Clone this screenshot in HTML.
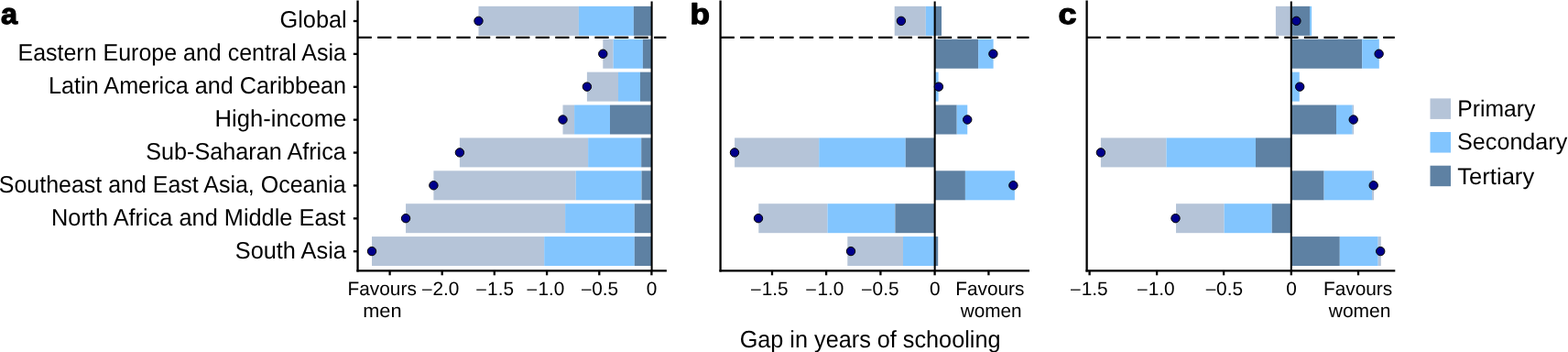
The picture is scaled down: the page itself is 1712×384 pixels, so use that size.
<!DOCTYPE html>
<html><head><meta charset="utf-8"><style>
html,body{margin:0;padding:0;background:#fff;}
svg{display:block;}
text{font-family:"Liberation Sans",Arial,Helvetica,sans-serif;fill:#000;text-rendering:geometricPrecision;}
</style></head><body>
<svg width="1712" height="384" viewBox="0 0 1712 384">
<rect width="1712" height="384" fill="#fff"/>
<rect x="522.50" y="6.85" width="109.40" height="32.00" fill="#b5c4d8"/>
<rect x="631.90" y="6.85" width="60.00" height="32.00" fill="#82c5fe"/>
<rect x="691.90" y="6.85" width="19.50" height="32.00" fill="#5e81a3"/>
<rect x="658.30" y="42.74" width="11.30" height="32.00" fill="#b5c4d8"/>
<rect x="669.60" y="42.74" width="32.30" height="32.00" fill="#82c5fe"/>
<rect x="701.90" y="42.74" width="9.50" height="32.00" fill="#5e81a3"/>
<rect x="640.90" y="78.63" width="34.10" height="32.00" fill="#b5c4d8"/>
<rect x="675.00" y="78.63" width="24.00" height="32.00" fill="#82c5fe"/>
<rect x="699.00" y="78.63" width="12.40" height="32.00" fill="#5e81a3"/>
<rect x="614.50" y="114.52" width="12.60" height="32.00" fill="#b5c4d8"/>
<rect x="627.10" y="114.52" width="38.90" height="32.00" fill="#82c5fe"/>
<rect x="666.00" y="114.52" width="45.40" height="32.00" fill="#5e81a3"/>
<rect x="501.90" y="150.41" width="140.20" height="32.00" fill="#b5c4d8"/>
<rect x="642.10" y="150.41" width="58.10" height="32.00" fill="#82c5fe"/>
<rect x="700.20" y="150.41" width="11.20" height="32.00" fill="#5e81a3"/>
<rect x="473.40" y="186.30" width="155.35" height="32.00" fill="#b5c4d8"/>
<rect x="628.75" y="186.30" width="71.75" height="32.00" fill="#82c5fe"/>
<rect x="700.50" y="186.30" width="10.90" height="32.00" fill="#5e81a3"/>
<rect x="443.05" y="222.19" width="174.05" height="32.00" fill="#b5c4d8"/>
<rect x="617.10" y="222.19" width="75.70" height="32.00" fill="#82c5fe"/>
<rect x="692.80" y="222.19" width="18.60" height="32.00" fill="#5e81a3"/>
<rect x="406.00" y="258.08" width="188.20" height="32.00" fill="#b5c4d8"/>
<rect x="594.20" y="258.08" width="98.60" height="32.00" fill="#82c5fe"/>
<rect x="692.80" y="258.08" width="18.60" height="32.00" fill="#5e81a3"/>
<line x1="390.55" y1="40.9" x2="727.40" y2="40.9" stroke="#000" stroke-width="2.2" stroke-dasharray="15.27 6.3"/>
<line x1="711.6" y1="1.6" x2="711.6" y2="295.45" stroke="#000" stroke-width="2.05"/>
<circle cx="522.5" cy="22.85" r="4.7" fill="#00008b" stroke="#000" stroke-width="1"/>
<circle cx="658.3" cy="58.74" r="4.7" fill="#00008b" stroke="#000" stroke-width="1"/>
<circle cx="640.9" cy="94.63" r="4.7" fill="#00008b" stroke="#000" stroke-width="1"/>
<circle cx="614.5" cy="130.52" r="4.7" fill="#00008b" stroke="#000" stroke-width="1"/>
<circle cx="501.9" cy="166.41" r="4.7" fill="#00008b" stroke="#000" stroke-width="1"/>
<circle cx="473.4" cy="202.30" r="4.7" fill="#00008b" stroke="#000" stroke-width="1"/>
<circle cx="443.05" cy="238.19" r="4.7" fill="#00008b" stroke="#000" stroke-width="1"/>
<circle cx="406.0" cy="274.08" r="4.7" fill="#00008b" stroke="#000" stroke-width="1"/>
<line x1="390.55" y1="0.5" x2="390.55" y2="296.59999999999997" stroke="#000" stroke-width="2.3"/>
<line x1="389.40000000000003" y1="295.45" x2="727.9" y2="295.45" stroke="#000" stroke-width="2.3"/>
<line x1="425.6" y1="295.45" x2="425.6" y2="300.3" stroke="#000" stroke-width="2.3"/>
<line x1="482.7" y1="295.45" x2="482.7" y2="300.3" stroke="#000" stroke-width="2.3"/>
<line x1="539.8" y1="295.45" x2="539.8" y2="300.3" stroke="#000" stroke-width="2.3"/>
<line x1="597.1" y1="295.45" x2="597.1" y2="300.3" stroke="#000" stroke-width="2.3"/>
<line x1="654.3" y1="295.45" x2="654.3" y2="300.3" stroke="#000" stroke-width="2.3"/>
<line x1="711.4" y1="295.45" x2="711.4" y2="300.3" stroke="#000" stroke-width="2.3"/>
<rect x="976.70" y="6.85" width="34.10" height="32.00" fill="#b5c4d8"/>
<rect x="1010.80" y="6.85" width="9.80" height="32.00" fill="#82c5fe"/>
<rect x="1020.60" y="6.85" width="7.40" height="32.00" fill="#5e81a3"/>
<rect x="1020.60" y="42.74" width="47.50" height="32.00" fill="#5e81a3"/>
<rect x="1068.10" y="42.74" width="16.50" height="32.00" fill="#82c5fe"/>
<rect x="1020.60" y="78.63" width="4.00" height="32.00" fill="#82c5fe"/>
<rect x="1020.60" y="114.52" width="24.10" height="32.00" fill="#5e81a3"/>
<rect x="1044.70" y="114.52" width="11.55" height="32.00" fill="#82c5fe"/>
<rect x="802.10" y="150.41" width="92.10" height="32.00" fill="#b5c4d8"/>
<rect x="894.20" y="150.41" width="94.55" height="32.00" fill="#82c5fe"/>
<rect x="988.75" y="150.41" width="31.85" height="32.00" fill="#5e81a3"/>
<rect x="1020.60" y="186.30" width="33.30" height="32.00" fill="#5e81a3"/>
<rect x="1053.90" y="186.30" width="54.00" height="32.00" fill="#82c5fe"/>
<rect x="828.30" y="222.19" width="75.20" height="32.00" fill="#b5c4d8"/>
<rect x="903.50" y="222.19" width="73.90" height="32.00" fill="#82c5fe"/>
<rect x="977.40" y="222.19" width="43.20" height="32.00" fill="#5e81a3"/>
<rect x="925.30" y="258.08" width="60.70" height="32.00" fill="#b5c4d8"/>
<rect x="986.00" y="258.08" width="34.60" height="32.00" fill="#82c5fe"/>
<rect x="1020.60" y="258.08" width="3.60" height="32.00" fill="#5e81a3"/>
<line x1="786.60" y1="40.9" x2="1123.50" y2="40.9" stroke="#000" stroke-width="2.2" stroke-dasharray="15.27 6.3"/>
<line x1="1020.65" y1="1.6" x2="1020.65" y2="295.45" stroke="#000" stroke-width="2.05"/>
<circle cx="983.9" cy="22.85" r="4.7" fill="#00008b" stroke="#000" stroke-width="1"/>
<circle cx="1084.4" cy="58.74" r="4.7" fill="#00008b" stroke="#000" stroke-width="1"/>
<circle cx="1024.9" cy="94.63" r="4.7" fill="#00008b" stroke="#000" stroke-width="1"/>
<circle cx="1056.25" cy="130.52" r="4.7" fill="#00008b" stroke="#000" stroke-width="1"/>
<circle cx="802.0" cy="166.41" r="4.7" fill="#00008b" stroke="#000" stroke-width="1"/>
<circle cx="1106.4" cy="202.30" r="4.7" fill="#00008b" stroke="#000" stroke-width="1"/>
<circle cx="828.0" cy="238.19" r="4.7" fill="#00008b" stroke="#000" stroke-width="1"/>
<circle cx="929.0" cy="274.08" r="4.7" fill="#00008b" stroke="#000" stroke-width="1"/>
<line x1="786.6" y1="0.5" x2="786.6" y2="296.59999999999997" stroke="#000" stroke-width="2.3"/>
<line x1="785.45" y1="295.45" x2="1124.0" y2="295.45" stroke="#000" stroke-width="2.3"/>
<line x1="843.0" y1="295.45" x2="843.0" y2="300.3" stroke="#000" stroke-width="2.3"/>
<line x1="902.1" y1="295.45" x2="902.1" y2="300.3" stroke="#000" stroke-width="2.3"/>
<line x1="961.4" y1="295.45" x2="961.4" y2="300.3" stroke="#000" stroke-width="2.3"/>
<line x1="1020.6" y1="295.45" x2="1020.6" y2="300.3" stroke="#000" stroke-width="2.3"/>
<line x1="1079.4" y1="295.45" x2="1079.4" y2="300.3" stroke="#000" stroke-width="2.3"/>
<rect x="1392.90" y="6.85" width="16.90" height="32.00" fill="#b5c4d8"/>
<rect x="1409.80" y="6.85" width="20.20" height="32.00" fill="#5e81a3"/>
<rect x="1430.00" y="6.85" width="2.10" height="32.00" fill="#82c5fe"/>
<rect x="1409.80" y="42.74" width="77.40" height="32.00" fill="#5e81a3"/>
<rect x="1487.20" y="42.74" width="18.60" height="32.00" fill="#82c5fe"/>
<rect x="1409.80" y="78.63" width="8.95" height="32.00" fill="#82c5fe"/>
<rect x="1409.80" y="114.52" width="49.20" height="32.00" fill="#5e81a3"/>
<rect x="1459.00" y="114.52" width="17.70" height="32.00" fill="#82c5fe"/>
<rect x="1476.70" y="114.52" width="1.40" height="32.00" fill="#b5c4d8"/>
<rect x="1201.90" y="150.41" width="71.60" height="32.00" fill="#b5c4d8"/>
<rect x="1273.50" y="150.41" width="97.50" height="32.00" fill="#82c5fe"/>
<rect x="1371.00" y="150.41" width="38.80" height="32.00" fill="#5e81a3"/>
<rect x="1409.80" y="186.30" width="35.80" height="32.00" fill="#5e81a3"/>
<rect x="1445.60" y="186.30" width="52.50" height="32.00" fill="#82c5fe"/>
<rect x="1498.10" y="186.30" width="1.90" height="32.00" fill="#b5c4d8"/>
<rect x="1284.00" y="222.19" width="52.60" height="32.00" fill="#b5c4d8"/>
<rect x="1336.60" y="222.19" width="52.15" height="32.00" fill="#82c5fe"/>
<rect x="1388.75" y="222.19" width="21.05" height="32.00" fill="#5e81a3"/>
<rect x="1409.80" y="258.08" width="53.00" height="32.00" fill="#5e81a3"/>
<rect x="1462.80" y="258.08" width="41.90" height="32.00" fill="#82c5fe"/>
<rect x="1504.70" y="258.08" width="3.10" height="32.00" fill="#b5c4d8"/>
<line x1="1186.60" y1="40.9" x2="1522.80" y2="40.9" stroke="#000" stroke-width="2.2" stroke-dasharray="15.27 6.3"/>
<line x1="1409.8" y1="1.6" x2="1409.8" y2="295.45" stroke="#000" stroke-width="2.05"/>
<circle cx="1415.4" cy="22.85" r="4.7" fill="#00008b" stroke="#000" stroke-width="1"/>
<circle cx="1505.6" cy="58.74" r="4.7" fill="#00008b" stroke="#000" stroke-width="1"/>
<circle cx="1419.2" cy="94.63" r="4.7" fill="#00008b" stroke="#000" stroke-width="1"/>
<circle cx="1477.7" cy="130.52" r="4.7" fill="#00008b" stroke="#000" stroke-width="1"/>
<circle cx="1201.9" cy="166.41" r="4.7" fill="#00008b" stroke="#000" stroke-width="1"/>
<circle cx="1499.7" cy="202.30" r="4.7" fill="#00008b" stroke="#000" stroke-width="1"/>
<circle cx="1283.5" cy="238.19" r="4.7" fill="#00008b" stroke="#000" stroke-width="1"/>
<circle cx="1507.2" cy="274.08" r="4.7" fill="#00008b" stroke="#000" stroke-width="1"/>
<line x1="1186.6" y1="0.5" x2="1186.6" y2="296.59999999999997" stroke="#000" stroke-width="2.3"/>
<line x1="1185.4499999999998" y1="295.45" x2="1523.3" y2="295.45" stroke="#000" stroke-width="2.3"/>
<line x1="1189.6" y1="295.45" x2="1189.6" y2="300.3" stroke="#000" stroke-width="2.3"/>
<line x1="1263.1" y1="295.45" x2="1263.1" y2="300.3" stroke="#000" stroke-width="2.3"/>
<line x1="1336.1" y1="295.45" x2="1336.1" y2="300.3" stroke="#000" stroke-width="2.3"/>
<line x1="1409.8" y1="295.45" x2="1409.8" y2="300.3" stroke="#000" stroke-width="2.3"/>
<line x1="1483.0" y1="295.45" x2="1483.0" y2="300.3" stroke="#000" stroke-width="2.3"/>
<text style="font-size:20.8px"><tspan x="461.00" y="321.2" style="font-size:19.0px">–</tspan><tspan x="472.53" y="321.8">2.0</tspan></text>
<text style="font-size:20.8px"><tspan x="520.20" y="321.2" style="font-size:19.0px">–</tspan><tspan x="532.09" y="321.8">1.5</tspan></text>
<text style="font-size:20.8px"><tspan x="575.60" y="321.2" style="font-size:19.0px">–</tspan><tspan x="587.41" y="321.8">1.0</tspan></text>
<text style="font-size:20.8px"><tspan x="634.90" y="321.2" style="font-size:19.0px">–</tspan><tspan x="646.22" y="321.8">0.5</tspan></text>
<text x="705.72" y="321.8" style="font-size:20.8px">0</text>
<text style="font-size:20.8px"><tspan x="820.00" y="321.2" style="font-size:19.0px">–</tspan><tspan x="831.64" y="321.8">1.5</tspan></text>
<text style="font-size:20.8px"><tspan x="880.20" y="321.2" style="font-size:19.0px">–</tspan><tspan x="892.51" y="321.8">1.0</tspan></text>
<text style="font-size:20.8px"><tspan x="941.10" y="321.2" style="font-size:19.0px">–</tspan><tspan x="952.62" y="321.8">0.5</tspan></text>
<text x="1015.12" y="321.8" style="font-size:20.8px">0</text>
<text style="font-size:20.8px"><tspan x="1169.00" y="321.2" style="font-size:19.0px">–</tspan><tspan x="1180.74" y="321.8">1.5</tspan></text>
<text style="font-size:20.8px"><tspan x="1242.00" y="321.2" style="font-size:19.0px">–</tspan><tspan x="1253.71" y="321.8">1.0</tspan></text>
<text style="font-size:20.8px"><tspan x="1316.70" y="321.2" style="font-size:19.0px">–</tspan><tspan x="1328.12" y="321.8">0.5</tspan></text>
<text x="1404.27" y="321.8" style="font-size:20.8px">0</text>
<line x1="385.8" y1="23.00" x2="390.5" y2="23.00" stroke="#000" stroke-width="2.3"/>
<line x1="385.8" y1="58.89" x2="390.5" y2="58.89" stroke="#000" stroke-width="2.3"/>
<line x1="385.8" y1="94.78" x2="390.5" y2="94.78" stroke="#000" stroke-width="2.3"/>
<line x1="385.8" y1="130.67" x2="390.5" y2="130.67" stroke="#000" stroke-width="2.3"/>
<line x1="385.8" y1="166.56" x2="390.5" y2="166.56" stroke="#000" stroke-width="2.3"/>
<line x1="385.8" y1="202.45" x2="390.5" y2="202.45" stroke="#000" stroke-width="2.3"/>
<line x1="385.8" y1="238.34" x2="390.5" y2="238.34" stroke="#000" stroke-width="2.3"/>
<line x1="385.8" y1="274.23" x2="390.5" y2="274.23" stroke="#000" stroke-width="2.3"/>
<text transform="translate(305.48 30.35) scale(0.9784 1)" style="font-size:25.9px">Global</text>
<text transform="translate(19.47 66.24) scale(0.9652 1)" style="font-size:25.9px">Eastern Europe and central Asia</text>
<text transform="translate(53.05 102.13) scale(0.9735 1)" style="font-size:25.9px">Latin America and Caribbean</text>
<text transform="translate(234.62 138.02) scale(0.9884 1)" style="font-size:25.9px">High-income</text>
<text transform="translate(159.28 173.91) scale(0.9733 1)" style="font-size:25.9px">Sub-Saharan Africa</text>
<text transform="translate(-1.21 209.80) scale(0.9644 1)" style="font-size:25.9px">Southeast and East Asia, Oceania</text>
<text transform="translate(56.04 245.69) scale(0.9788 1)" style="font-size:25.9px">North Africa and Middle East</text>
<text transform="translate(256.78 281.58) scale(0.9780 1)" style="font-size:25.9px">South Asia</text>
<text transform="translate(379.56 321.80) scale(0.9918 1)" style="font-size:21.0px">Favours</text>
<text transform="translate(396.14 346.20) scale(1.0368 1)" style="font-size:21.0px">men</text>
<text transform="translate(1043.27 321.80) scale(0.9905 1)" style="font-size:21.0px">Favours</text>
<text transform="translate(1048.80 346.20) scale(0.9872 1)" style="font-size:21.0px">women</text>
<text transform="translate(1444.96 321.80) scale(0.9918 1)" style="font-size:21.0px">Favours</text>
<text transform="translate(1450.80 346.20) scale(0.9992 1)" style="font-size:21.0px">women</text>
<text transform="translate(807.64 378.60) scale(0.9709 1)" style="font-size:26.0px">Gap in years of schooling</text>
<text transform="translate(1591.25 126.50) scale(0.9753 1)" style="font-size:25.3px">Primary</text>
<text transform="translate(1591.06 163.00) scale(0.9941 1)" style="font-size:25.3px">Secondary</text>
<text transform="translate(1591.29 200.50) scale(1.0116 1)" style="font-size:25.3px">Tertiary</text>
<text transform="translate(1.00 25.92) scale(1.0027 0.9789)" style="font-size:32.3px;font-weight:bold;stroke:#000;stroke-width:1.3px;stroke-linejoin:round">a</text>
<text transform="translate(753.57 26.13) scale(1.0857 0.9680)" style="font-size:32.3px;font-weight:bold;stroke:#000;stroke-width:1.3px;stroke-linejoin:round">b</text>
<text transform="translate(1155.55 26.33) scale(1.1072 0.9711)" style="font-size:32.3px;font-weight:bold;stroke:#000;stroke-width:1.3px;stroke-linejoin:round">c</text>
<rect x="1561.5" y="107.40" width="22.5" height="22.5" fill="#b5c4d8"/>
<rect x="1561.5" y="144.05" width="22.5" height="22.5" fill="#82c5fe"/>
<rect x="1561.5" y="180.70" width="22.5" height="22.5" fill="#5e81a3"/>
</svg>
</body></html>
